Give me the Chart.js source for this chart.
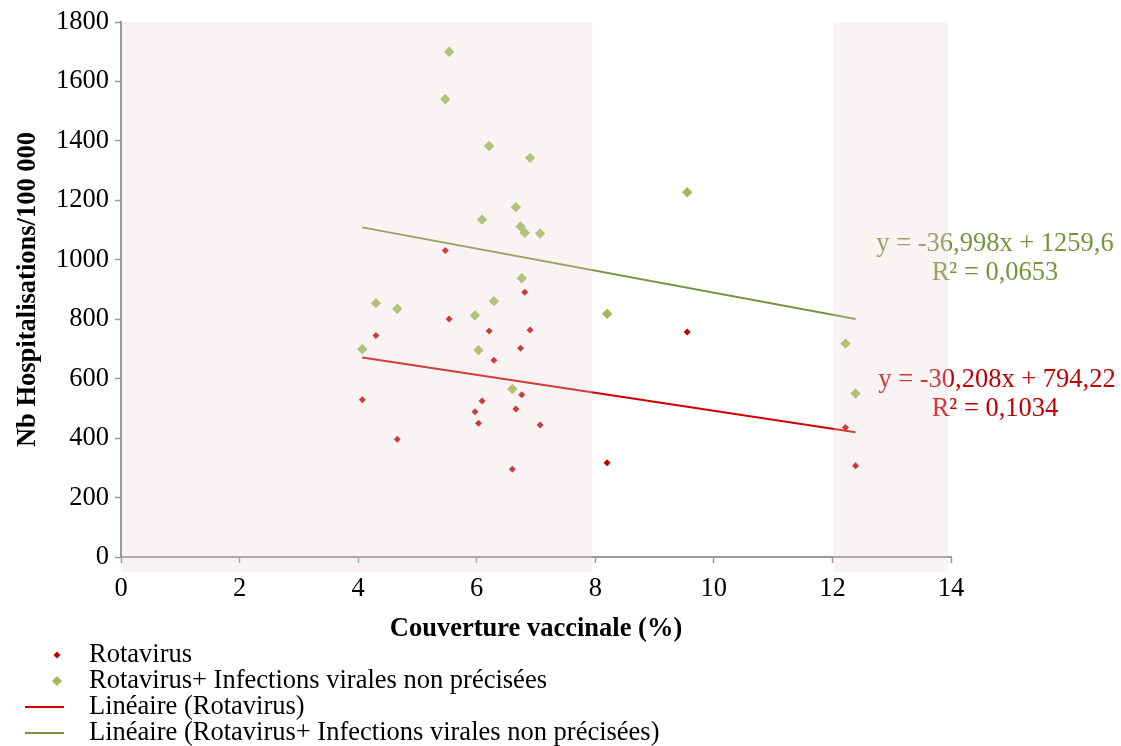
<!DOCTYPE html>
<html>
<head>
<meta charset="utf-8">
<script src="https://cdn.jsdelivr.net/npm/chart.js@4.4.1/dist/chart.umd.min.js"></script>
<style>
  html, body { margin: 0; padding: 0; background: #ffffff; }
  #wrap { width: 1121px; height: 746px; }
</style>
</head>
<body>
<div id="wrap"><canvas id="c" width="1121" height="746"></canvas></div>
<script>
// ---- data ----
const coverage = [4.07, 4.30, 4.66, 5.47, 5.535, 5.97, 6.03, 6.09, 6.21, 6.29, 6.60, 6.66, 6.74, 6.76, 6.81, 6.90, 7.07, 8.20, 9.55, 12.22, 12.39];
const rotavirus = [529, 745, 396, 1031, 801, 489, 450, 525, 760, 662, 295, 498, 702, 546, 891, 764, 444, 317, 757, 436, 307];
const rotavirusPlus = [699, 854, 835, 1540, 1700, 813, 696, 1135, 1383, 861, 565, 1177, 1112, 938, 1091, 1343, 1088, 818, 1227, 718, 550];

const trendX = [4.07, 12.39];
const trendRotavirus = [671, 420];
const trendRotavirusPlus = [1109, 801];

const seriesLabels = [
  'Rotavirus',
  'Rotavirus+ Infections virales non précisées',
  'Linéaire (Rotavirus)',
  'Linéaire (Rotavirus+ Infections virales non précisées)'
];
const eqRotavirusPlus = ['y = -36,998x + 1259,6', 'R² = 0,0653'];
const eqRotavirus = ['y = -30,208x + 794,22', 'R² = 0,1034'];
const shadedRanges = [[0, 7.95], [12.0, 13.95]];

const xTitle = 'Couverture vaccinale (%)';
const yTitle = 'Nb Hospitalisations/100 000';

// ---- styles ----
const RED = '#C00000';
const GREEN = '#9BBB59';
const GREEN_LINE = '#77933C';
const RED_LINE = '#D00000';
const FONT = '"Liberation Serif", "Times New Roman", serif';
const FS = 26.5;

const pts = (xs, ys) => xs.map((x, i) => ({ x: x, y: ys[i] }));

const overlayPlugin = {
  id: 'overlayPlugin',
  afterDatasetsDraw(chart) {
    const ctx = chart.ctx;
    const xs = chart.scales.x;
    const ca = chart.chartArea;
    ctx.save();
    // equations
    ctx.font = FS + 'px ' + FONT;
    ctx.textAlign = 'center';
    ctx.textBaseline = 'middle';
    ctx.fillStyle = GREEN_LINE;
    ctx.fillText(eqRotavirusPlus[0], 995, 244);
    ctx.fillText(eqRotavirusPlus[1], 995, 273);
    ctx.fillStyle = RED;
    ctx.fillText(eqRotavirus[0], 997, 380);
    ctx.fillText(eqRotavirus[1], 995, 409);
    // shaded translucent bands
    ctx.fillStyle = 'rgba(232,212,212,0.28)';
    shadedRanges.forEach(r => {
      const x0 = xs.getPixelForValue(r[0]) + 1;
      const x1 = xs.getPixelForValue(r[1]);
      ctx.fillRect(x0, ca.top, x1 - x0, ca.bottom - ca.top + 15);
    });
    ctx.restore();
  },
  afterDraw(chart) {
    const ctx = chart.ctx;
    ctx.save();
    ctx.font = FS + 'px ' + FONT;
    ctx.textAlign = 'left';
    ctx.textBaseline = 'middle';
    const ys = [655, 681, 707, 733];
    const tx = 89;
    const diamond = (cx, cy, r, col) => {
      ctx.fillStyle = col;
      ctx.beginPath();
      ctx.moveTo(cx, cy - r); ctx.lineTo(cx + r, cy); ctx.lineTo(cx, cy + r); ctx.lineTo(cx - r, cy);
      ctx.closePath(); ctx.fill();
    };
    diamond(57, ys[0], 3.5, RED);
    diamond(57, ys[1], 5, GREEN);
    ctx.lineWidth = 2;
    ctx.strokeStyle = RED_LINE;
    ctx.beginPath(); ctx.moveTo(25, ys[2]); ctx.lineTo(64, ys[2]); ctx.stroke();
    ctx.strokeStyle = GREEN_LINE;
    ctx.beginPath(); ctx.moveTo(25, ys[3]); ctx.lineTo(64, ys[3]); ctx.stroke();
    ctx.fillStyle = '#000';
    seriesLabels.forEach((t, i) => ctx.fillText(t, tx, ys[i]));
    ctx.restore();
  }
};

new Chart(document.getElementById('c'), {
  type: 'scatter',
  data: {
    datasets: [
      { label: seriesLabels[0], data: pts(coverage, rotavirus), pointStyle: 'rectRot', pointRadius: 3.5, backgroundColor: RED, borderColor: RED, borderWidth: 0, order: 2 },
      { label: seriesLabels[1], data: pts(coverage, rotavirusPlus), pointStyle: 'rectRot', pointRadius: 5.2, backgroundColor: GREEN, borderColor: GREEN, borderWidth: 0, order: 3 },
      { label: seriesLabels[2], type: 'line', data: pts(trendX, trendRotavirus), borderColor: RED_LINE, borderWidth: 2, pointRadius: 0, fill: false, order: 1 },
      { label: seriesLabels[3], type: 'line', data: pts(trendX, trendRotavirusPlus), borderColor: GREEN_LINE, borderWidth: 2, pointRadius: 0, fill: false, order: 1 }
    ]
  },
  options: {
    responsive: false,
    animation: false,
    devicePixelRatio: 1,
    layout: { padding: { left: 0, right: 170, top: 22, bottom: 101 } },
    plugins: { legend: { display: false }, tooltip: { enabled: false } },
    scales: {
      x: {
        type: 'linear', min: 0, max: 14,
        ticks: { stepSize: 2, color: '#000', font: { family: FONT, size: FS }, padding: 10, maxRotation: 0, callback: v => String(v) },
        grid: { drawOnChartArea: false, drawTicks: true, tickLength: 6, tickColor: '#999', tickWidth: 1.5 },
        border: { color: '#999', width: 2 },
        title: { display: true, text: xTitle, color: '#000', font: { family: FONT, size: FS, weight: 'bold' }, padding: { top: 0, bottom: 0 } },
        afterFit(s) { s.height = 88; }
      },
      y: {
        type: 'linear', min: 0, max: 1800,
        ticks: { stepSize: 200, color: '#000', font: { family: FONT, size: FS }, padding: 6, callback: v => String(v) },
        grid: { drawOnChartArea: false, drawTicks: true, tickLength: 6, tickColor: '#999', tickWidth: 1.5 },
        border: { color: '#999', width: 2 },
        title: { display: true, text: yTitle, color: '#000', font: { family: FONT, size: FS, weight: 'bold' }, padding: { top: 12, bottom: 0 } },
        afterFit(s) { s.width = 121; }
      }
    }
  },
  plugins: [overlayPlugin]
});
</script>
</body>
</html>
